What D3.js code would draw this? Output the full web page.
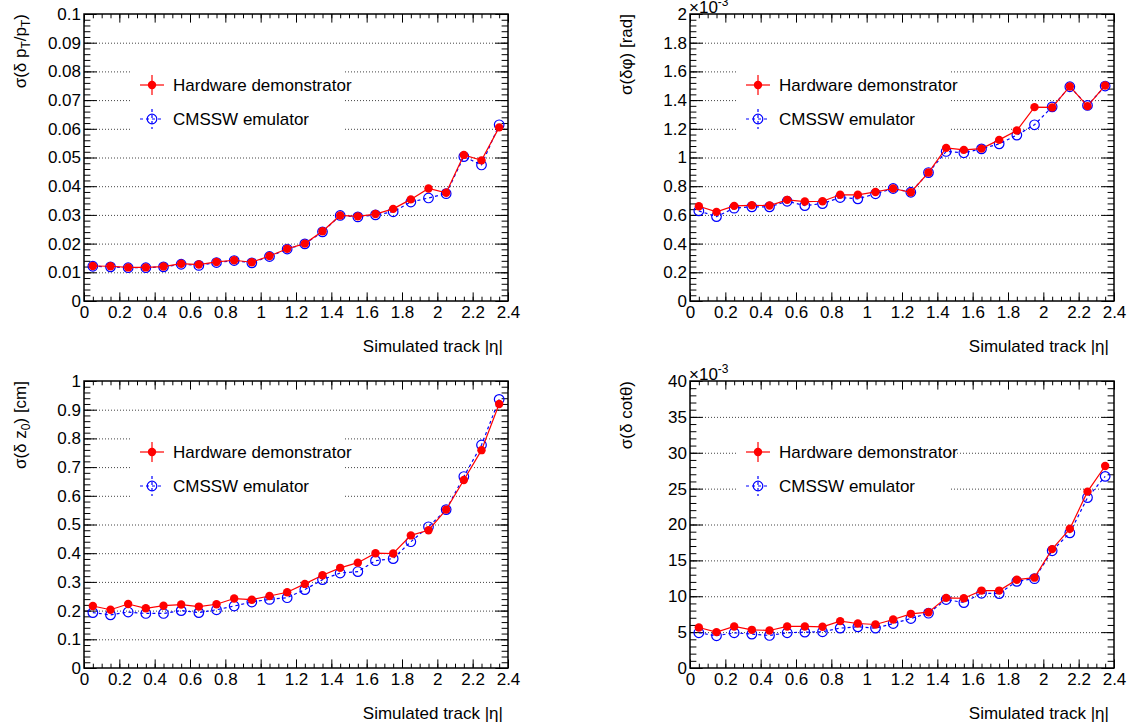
<!DOCTYPE html>
<html>
<head>
<meta charset="UTF-8">
<title>Track parameter resolution vs |eta|</title>
<script src="https://d3js.org/d3.v7.min.js"></script>
<style>
    body {
        margin: 0;
        background: #fff;
        font-family: "Liberation Sans", Arial, sans-serif;
    }
    svg { display: block; }
    .grid line { stroke: #444; stroke-dasharray: 1,2; stroke-width: 1; }
    .grid path { display: none; }
    .tk path { display: none; }
    .tk line { stroke: #000; stroke-width: 1; }
    .tk text { font-size: 17px; fill: #000; font-family: "Liberation Sans", Arial, sans-serif; }
</style>
</head>
<body>
<svg width="1131" height="727"></svg>
<script>
    // bin centres in |eta|
    const etaBins = [0.05, 0.15, 0.25, 0.35, 0.45, 0.55, 0.65, 0.75, 0.85, 0.95, 1.05, 1.15,
        1.25, 1.35, 1.45, 1.55, 1.65, 1.75, 1.85, 1.95, 2.05, 2.15, 2.25, 2.35];
    const xTicks = [0, 0.2, 0.4, 0.6, 0.8, 1, 1.2, 1.4, 1.6, 1.8, 2, 2.2, 2.4];

    // sigma(delta pT/pT)
    const ptHardware = [0.0122, 0.0121, 0.0117, 0.0117, 0.0120, 0.0130, 0.0127, 0.0136, 0.0142, 0.0135, 0.0157, 0.0182,
        0.0200, 0.0243, 0.0298, 0.0295, 0.0303, 0.0321, 0.0354, 0.0392, 0.0377, 0.0509, 0.0490, 0.0605];
    const ptEmulator = [0.0121, 0.0119, 0.0116, 0.0116, 0.0119, 0.0128, 0.0124, 0.0134, 0.0141, 0.0133, 0.0155, 0.0181,
        0.0199, 0.0241, 0.0298, 0.0293, 0.0300, 0.0311, 0.0345, 0.0359, 0.0374, 0.0503, 0.0474, 0.0614];
    const ptTicks = [0, 0.01, 0.02, 0.03, 0.04, 0.05, 0.06, 0.07, 0.08, 0.09, 0.1];

    // sigma(delta phi) in units of 1e-3 rad
    const phiHardware = [0.660, 0.621, 0.663, 0.667, 0.665, 0.705, 0.693, 0.695, 0.740, 0.740, 0.760, 0.784,
        0.758, 0.895, 1.067, 1.053, 1.062, 1.123, 1.188, 1.351, 1.349, 1.495, 1.358, 1.502];
    const phiEmulator = [0.628, 0.588, 0.647, 0.656, 0.656, 0.695, 0.665, 0.679, 0.721, 0.712, 0.747, 0.784,
        0.758, 0.895, 1.042, 1.033, 1.060, 1.095, 1.156, 1.228, 1.353, 1.493, 1.363, 1.498];
    const phiTicks = [0, 0.2, 0.4, 0.6, 0.8, 1, 1.2, 1.4, 1.6, 1.8, 2];

    // sigma(delta z0) in cm
    const z0Hardware = [0.216, 0.203, 0.223, 0.208, 0.217, 0.221, 0.214, 0.222, 0.242, 0.238, 0.251, 0.264,
        0.293, 0.323, 0.349, 0.367, 0.400, 0.399, 0.462, 0.480, 0.552, 0.655, 0.759, 0.920];
    const z0Emulator = [0.193, 0.185, 0.195, 0.190, 0.190, 0.200, 0.193, 0.203, 0.216, 0.230, 0.239, 0.245,
        0.273, 0.308, 0.331, 0.336, 0.374, 0.381, 0.440, 0.492, 0.552, 0.667, 0.777, 0.936];
    const z0Ticks = [0, 0.1, 0.2, 0.3, 0.4, 0.5, 0.6, 0.7, 0.8, 0.9, 1];

    // sigma(delta cot theta) in units of 1e-3
    const cotHardware = [5.65, 5.00, 5.79, 5.32, 5.23, 5.79, 5.79, 5.74, 6.53, 6.20, 6.06, 6.76,
        7.55, 7.78, 9.77, 9.72, 10.79, 10.79, 12.31, 12.59, 16.57, 19.40, 24.58, 28.15];
    const cotEmulator = [4.91, 4.49, 4.91, 4.72, 4.54, 4.91, 5.00, 5.05, 5.56, 5.74, 5.56, 6.20,
        6.90, 7.64, 9.54, 9.12, 10.42, 10.37, 12.08, 12.45, 16.34, 18.84, 23.75, 26.71];
    const cotTicks = [0, 5, 10, 15, 20, 25, 30, 35, 40];

    const legendNames = ["Hardware demonstrator", "CMSSW emulator"];
    const xTitle = "Simulated track |η|";

    const W = 424, H = 287;
    const FS = 17;
    const svg = d3.select("svg");

    // title pieces: [text, isSubscript]
    const panels = [
        {left: 84, top: 14, hw: ptHardware, emu: ptEmulator, ticks: ptTicks, exp: false,
            title: [["σ(δ p", 0], ["T", 1], ["/p", 0], ["T", 1], [")", 0]]},
        {left: 690, top: 14, hw: phiHardware, emu: phiEmulator, ticks: phiTicks, exp: true,
            title: [["σ(δφ) [rad]", 0]]},
        {left: 84, top: 381, hw: z0Hardware, emu: z0Emulator, ticks: z0Ticks, exp: false,
            title: [["σ(δ z", 0], ["0", 1], [") [cm]", 0]]},
        {left: 690, top: 381, hw: cotHardware, emu: cotEmulator, ticks: cotTicks, exp: true,
            title: [["σ(δ cotθ)", 0]]}
    ];

    const fmt = d => String(+d.toFixed(3));

    function drawPanel(p) {
        const g = svg.append("g").attr("transform", `translate(${p.left},${p.top})`);
        const x = d3.scaleLinear().domain([0, 2.4]).range([0, W]);
        const yMax = p.ticks[p.ticks.length - 1];
        const y = d3.scaleLinear().domain([0, yMax]).range([H, 0]);
        const yStep = p.ticks[1] - p.ticks[0];

        // dotted horizontal grid
        g.append("g").attr("class", "grid")
            .call(d3.axisLeft(y).tickValues(p.ticks.slice(1, -1)).tickSize(-W).tickFormat(""));

        // legend box (white, no border) hides the grid underneath
        g.append("rect").attr("x", 48).attr("y", 42).attr("width", 212).attr("height", 80).attr("fill", "#fff");

        // minor ticks
        const yMinor = d3.range(0, yMax + yStep / 100, yStep / 5);
        const xMinor = d3.range(0, 2.4001, 0.05);
        g.append("g").attr("class", "tk").call(d3.axisLeft(y).tickValues(yMinor).tickSize(-6.4).tickFormat(""));
        g.append("g").attr("class", "tk").attr("transform", `translate(${W},0)`)
            .call(d3.axisRight(y).tickValues(yMinor).tickSize(-6.4).tickFormat(""));
        g.append("g").attr("class", "tk").attr("transform", `translate(0,${H})`)
            .call(d3.axisBottom(x).tickValues(xMinor).tickSize(-4.3).tickFormat(""));
        g.append("g").attr("class", "tk")
            .call(d3.axisTop(x).tickValues(xMinor).tickSize(-4.3).tickFormat(""));

        // major ticks + labels
        g.append("g").attr("class", "tk")
            .call(d3.axisLeft(y).tickValues(p.ticks).tickSize(-12.7).tickPadding(3).tickFormat(fmt));
        g.append("g").attr("class", "tk").attr("transform", `translate(${W},0)`)
            .call(d3.axisRight(y).tickValues(p.ticks).tickSize(-12.7).tickFormat(""));
        g.append("g").attr("class", "tk").attr("transform", `translate(0,${H})`)
            .call(d3.axisBottom(x).tickValues(xTicks).tickSize(-8.6).tickPadding(5).tickFormat(fmt));
        g.append("g").attr("class", "tk")
            .call(d3.axisTop(x).tickValues(xTicks).tickSize(-8.6).tickFormat(""));

        // frame
        g.append("rect").attr("width", W).attr("height", H)
            .attr("fill", "none").attr("stroke", "#000").attr("stroke-width", 1.5);

        // exponent label
        if (p.exp) {
            const t = g.append("text").attr("x", -1).attr("y", -1).attr("font-size", FS);
            t.append("tspan").text("×10");
            t.append("tspan").attr("dy", -7).attr("font-size", 12).text("-3");
        }

        // axis titles
        g.append("text").attr("x", W - 5).attr("y", H + 51).attr("text-anchor", "end")
            .attr("font-size", FS).text(xTitle);
        const yt = g.append("text").attr("transform", `translate(-58,0) rotate(-90)`)
            .attr("text-anchor", "end").attr("font-size", FS);
        let shifted = 0;
        p.title.forEach(([s, sub]) => {
            const dy = sub ? 4 - shifted : -shifted;
            shifted = sub ? 4 : 0;
            yt.append("tspan").attr("font-size", sub ? 12 : FS).attr("dy", dy).text(s);
        });

        const line = d3.line().x((d, i) => x(etaBins[i])).y(d => y(d));

        // emulator: blue dashed, open circles
        g.append("path").datum(p.emu).attr("d", line).attr("fill", "none")
            .attr("stroke", "#0000ff").attr("stroke-width", 1.2).attr("stroke-dasharray", "3,3");
        g.selectAll(".emu").data(p.emu).enter().append("circle").attr("class", "emu")
            .attr("cx", (d, i) => x(etaBins[i])).attr("cy", d => y(d)).attr("r", 4.8)
            .attr("fill", "none").attr("stroke", "#0000ff").attr("stroke-width", 1.2);

        // hardware: red solid, filled circles
        g.append("path").datum(p.hw).attr("d", line).attr("fill", "none")
            .attr("stroke", "#ff0000").attr("stroke-width", 1.2);
        g.selectAll(".hw").data(p.hw).enter().append("circle").attr("class", "hw")
            .attr("cx", (d, i) => x(etaBins[i])).attr("cy", d => y(d)).attr("r", 4.2)
            .attr("fill", "#ff0000");

        // legend
        const lg = g.append("g").attr("transform", "translate(68,71)");
        lg.append("line").attr("x1", -12).attr("x2", 12).attr("stroke", "#ff0000").attr("stroke-width", 1.2);
        lg.append("line").attr("y1", -10).attr("y2", 10).attr("stroke", "#ff0000").attr("stroke-width", 1.2);
        lg.append("circle").attr("r", 4.2).attr("fill", "#ff0000");
        lg.append("text").attr("x", 21).attr("dy", "0.35em").attr("font-size", FS).text(legendNames[0]);
        const lb = lg.append("g").attr("transform", "translate(0,34)");
        lb.append("line").attr("x1", -12).attr("x2", 12).attr("stroke", "#0000ff")
            .attr("stroke-width", 1.2).attr("stroke-dasharray", "3,3");
        lb.append("line").attr("y1", -10).attr("y2", 10).attr("stroke", "#0000ff")
            .attr("stroke-width", 1.2).attr("stroke-dasharray", "3,3");
        lb.append("circle").attr("r", 4.8).attr("fill", "none").attr("stroke", "#0000ff").attr("stroke-width", 1.2);
        lb.append("text").attr("x", 21).attr("dy", "0.35em").attr("font-size", FS).text(legendNames[1]);
    }

    panels.forEach(drawPanel);
</script>
</body>
</html>
